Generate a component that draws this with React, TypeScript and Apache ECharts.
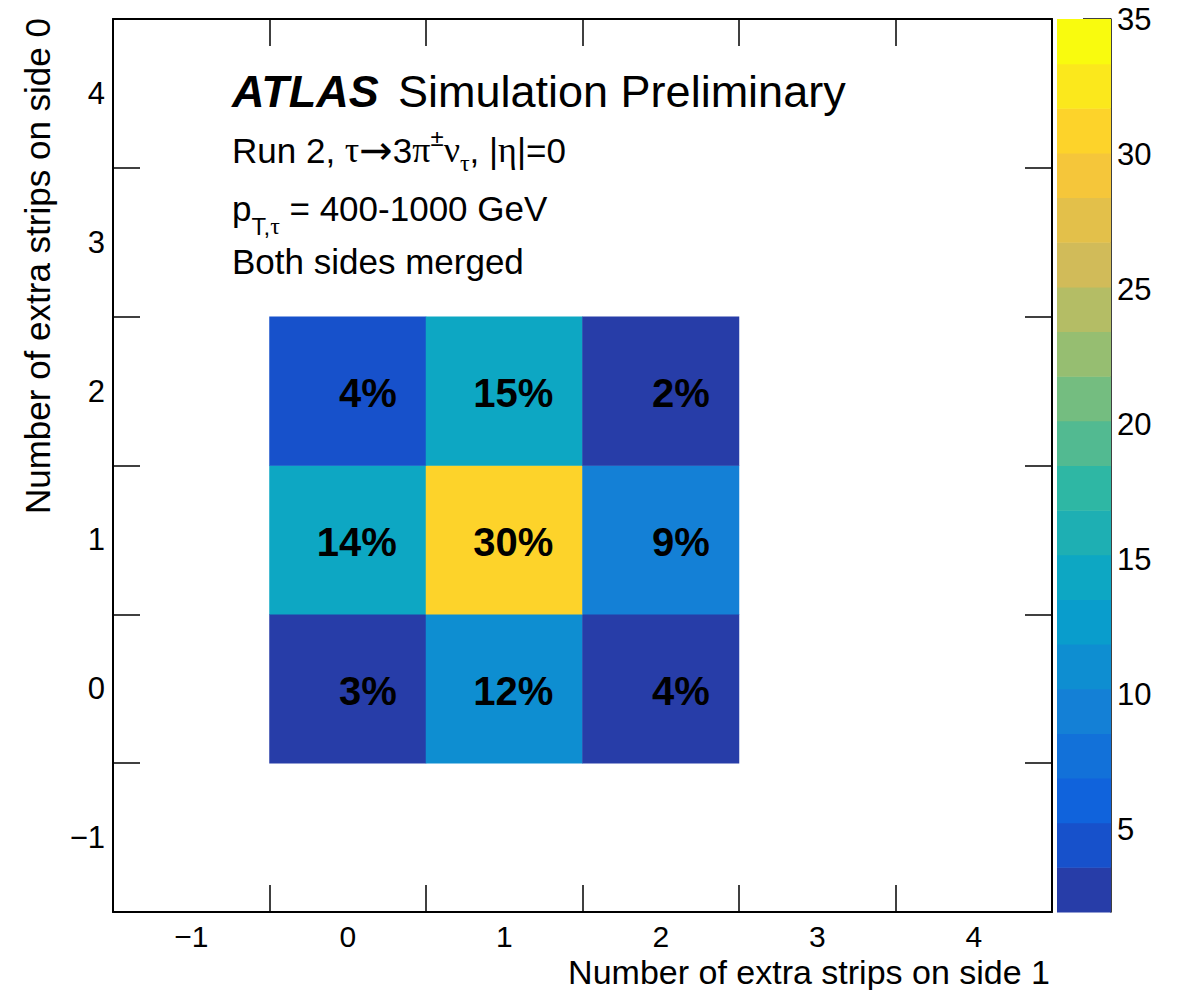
import React, { useEffect, useRef } from "react";
import * as echarts from "echarts";

// ---- data ----
const axisCategories = ["−1", "0", "1", "2", "3", "4"];
const side1Bins = ["0", "1", "2"]; // x: extra strips on side 1
const side0Bins = ["0", "1", "2"]; // y: extra strips on side 0
// fraction (%) per cell; rows = side0 strips 0,1,2 ; columns = side1 strips 0,1,2
const rowSide0_0 = [3.0, 11.7, 3.55];
const rowSide0_1 = [14.2, 30.2, 9.1];
const rowSide0_2 = [4.1, 14.8, 1.95];
const fractionRows = [rowSide0_0, rowSide0_1, rowSide0_2];

const zMin = 1.93;
const zMax = 35;
const nContours = 20;
const colorbarTicks = [5, 10, 15, 20, 25, 30, 35];

// ---- kBird palette (ROOT) ----
const birdStops = [0, 0.125, 0.25, 0.375, 0.5, 0.625, 0.75, 0.875, 1];
const birdR = [0.2082, 0.0592, 0.078, 0.0232, 0.1802, 0.5301, 0.8186, 0.9956, 0.9764];
const birdG = [0.1664, 0.3599, 0.5041, 0.6419, 0.7178, 0.7492, 0.7328, 0.7862, 0.9832];
const birdB = [0.5293, 0.8684, 0.8385, 0.7914, 0.6425, 0.4662, 0.3499, 0.1968, 0.0539];
function bird(t: number) {
  let k = 0;
  while (k < 7 && t > birdStops[k + 1]) k++;
  const f = (t - birdStops[k]) / (birdStops[k + 1] - birdStops[k]);
  const ch = (a: number[]) => Math.round(255 * (a[k] + f * (a[k + 1] - a[k])));
  return `rgb(${ch(birdR)},${ch(birdG)},${ch(birdB)})`;
}
const bandWidth = (zMax - zMin) / nContours;
const bands = Array.from({ length: nContours }, (_, i) => ({
  lo: zMin + i * bandWidth,
  hi: zMin + (i + 1) * bandWidth,
  color: bird(Math.floor(((i + 0.99) * 255) / nContours) / 254),
}));

const SANS = '"Liberation Sans", Arial, Helvetica, sans-serif';
const SERIF = '"Liberation Serif", "Times New Roman", serif';

export default function App() {
  const ref = useRef<HTMLDivElement>(null);
  useEffect(() => {
    if (!ref.current) return;
    const chart = echarts.init(ref.current, undefined, { renderer: "svg" });

    const heatData: number[][] = [];
    fractionRows.forEach((row, r) => {
      row.forEach((v, c) => {
        heatData.push([
          axisCategories.indexOf(side1Bins[c]),
          axisCategories.indexOf(side0Bins[r]),
          v,
        ]);
      });
    });

    const frameLine = { show: true, onZero: false, lineStyle: { color: "#000", width: 2 } };
    const innerTick = { show: true, inside: true, length: 27, lineStyle: { color: "#000", width: 1.5 } };
    const tickLabel = { fontSize: 30, color: "#000", fontFamily: SANS, interval: 0 };

    const option: any = {
      animation: false,
      backgroundColor: "#fff",
      grid: [
        { left: 113, top: 19, width: 939, height: 893, containLabel: false },
        { left: 1057, top: 19, width: 54, height: 893, containLabel: false },
      ],
      xAxis: [
        {
          type: "category", gridIndex: 0, position: "bottom", data: axisCategories,
          axisLine: frameLine, axisTick: innerTick,
          axisLabel: { ...tickLabel, margin: 9 }, splitLine: { show: false },
        },
        {
          type: "category", gridIndex: 0, position: "top", data: axisCategories,
          axisLine: frameLine, axisTick: innerTick,
          axisLabel: { show: false }, splitLine: { show: false },
        },
        { type: "category", gridIndex: 1, data: [""], show: false },
      ],
      yAxis: [
        {
          type: "category", gridIndex: 0, position: "left", data: axisCategories,
          axisLine: frameLine, axisTick: innerTick,
          axisLabel: { ...tickLabel, fontSize: 31, margin: 8 }, splitLine: { show: false },
        },
        {
          type: "category", gridIndex: 0, position: "right", data: axisCategories,
          axisLine: frameLine, axisTick: innerTick,
          axisLabel: { show: false }, splitLine: { show: false },
        },
        {
          type: "value", gridIndex: 1, position: "right", min: zMin, max: zMax,
          axisLine: { show: true, lineStyle: { color: "#000", width: 1.5 } },
          axisTick: { show: true, inside: true, length: 28, customValues: colorbarTicks, lineStyle: { color: "#000", width: 1.5 } },
          axisLabel: { fontSize: 31, color: "#000", fontFamily: SANS, margin: 6, customValues: colorbarTicks, showMinLabel: true, showMaxLabel: true },
          splitLine: { show: false },
        },
      ],
      visualMap: {
        type: "piecewise",
        show: false,
        seriesIndex: 0,
        dimension: 2,
        pieces: bands.map((b, i) => (i === bands.length - 1 ? { gte: b.lo, lte: b.hi + 1, color: b.color } : { gte: b.lo, lt: b.hi, color: b.color })),
      },
      series: [
        {
          type: "heatmap",
          xAxisIndex: 0,
          yAxisIndex: 0,
          data: heatData,
          itemStyle: { borderWidth: 0 },
          emphasis: { disabled: true },
          label: {
            show: true,
            formatter: (p: any) => `${Math.round(p.value[2])}%`,
            fontSize: 40,
            fontWeight: "bold",
            fontFamily: SANS,
            color: "#000",
            align: "right",
            offset: [49, 2],
          },
        },
        {
          type: "custom",
          xAxisIndex: 2,
          yAxisIndex: 2,
          silent: true,
          data: bands.map((b, i) => [0, b.lo, b.hi, i]),
          encode: { x: 0, y: [1, 2] },
          renderItem: (params: any, api: any) => {
            const lo = api.value(1);
            const hi = api.value(2);
            const p1 = api.coord([0, lo]);
            const p2 = api.coord([0, hi]);
            const cs = params.coordSys;
            return {
              type: "rect",
              shape: { x: cs.x, y: p2[1], width: cs.width, height: p1[1] - p2[1] + 0.5 },
              style: { fill: bands[api.value(3)].color, stroke: null },
            };
          },
          z: 1,
        },
      ],
      graphic: [
        {
          type: "text", x: 232, y: 91,
          style: { text: "ATLAS", fontSize: 45, fontWeight: "bold", fontStyle: "italic", fontFamily: SANS, fill: "#000", align: "left", verticalAlign: "middle" },
        },
        {
          type: "text", x: 398, y: 91,
          style: { text: "Simulation Preliminary", fontSize: 45, fontFamily: SANS, fill: "#000", align: "left", verticalAlign: "middle" },
        },
        {
          type: "text", x: 232, y: 150,
          style: {
            text: "{r|Run 2, }{g|τ}{a|→}{r|3}{g|π}{sup|±}{g|ν}{sub|τ}{r|, |}{g|η}{r||=0}",
            align: "left", verticalAlign: "middle",
            rich: {
              r: { fontSize: 35, fontFamily: SANS, fill: "#000", lineHeight: 50 },
              a: { fontSize: 40, fontFamily: '"DejaVu Sans", sans-serif', fill: "#000", lineHeight: 50 },
              g: { fontSize: 36, fontFamily: SERIF, fill: "#000", lineHeight: 50 },
              sup: { fontSize: 24, fontFamily: SANS, fill: "#000", lineHeight: 32, verticalAlign: "top" },
              sub: { fontSize: 24, fontFamily: SERIF, fill: "#000", lineHeight: 20, verticalAlign: "bottom" },
            },
          },
        },
        {
          type: "text", x: 232, y: 208,
          style: {
            text: "{r|p}{sub|T,}{subg|τ}{r| = 400-1000 GeV}",
            align: "left", verticalAlign: "middle",
            rich: {
              r: { fontSize: 35, fontFamily: SANS, fill: "#000", lineHeight: 60 },
              sub: { fontSize: 24, fontFamily: SANS, fill: "#000", lineHeight: 12, verticalAlign: "bottom" },
              subg: { fontSize: 24, fontFamily: SERIF, fill: "#000", lineHeight: 12, verticalAlign: "bottom" },
            },
          },
        },
        {
          type: "text", x: 232, y: 261,
          style: { text: "Both sides merged", fontSize: 35, fontFamily: SANS, fill: "#000", align: "left", verticalAlign: "middle" },
        },
        {
          type: "text", x: 1050, y: 972,
          style: { text: "Number of extra strips on side 1", fontSize: 34, fontFamily: SANS, fill: "#000", align: "right", verticalAlign: "middle" },
        },
        {
          type: "text", x: 37, y: 18, rotation: Math.PI / 2,
          style: { text: "Number of extra strips on side 0", fontSize: 35, fontFamily: SANS, fill: "#000", align: "right", verticalAlign: "middle" },
        },
      ],
    };

    chart.setOption(option);
    return () => chart.dispose();
  }, []);

  return (
    <div
      ref={ref}
      style={{ position: "fixed", left: 0, top: 0, width: 1179, height: 990, background: "#fff" }}
    />
  );
}
